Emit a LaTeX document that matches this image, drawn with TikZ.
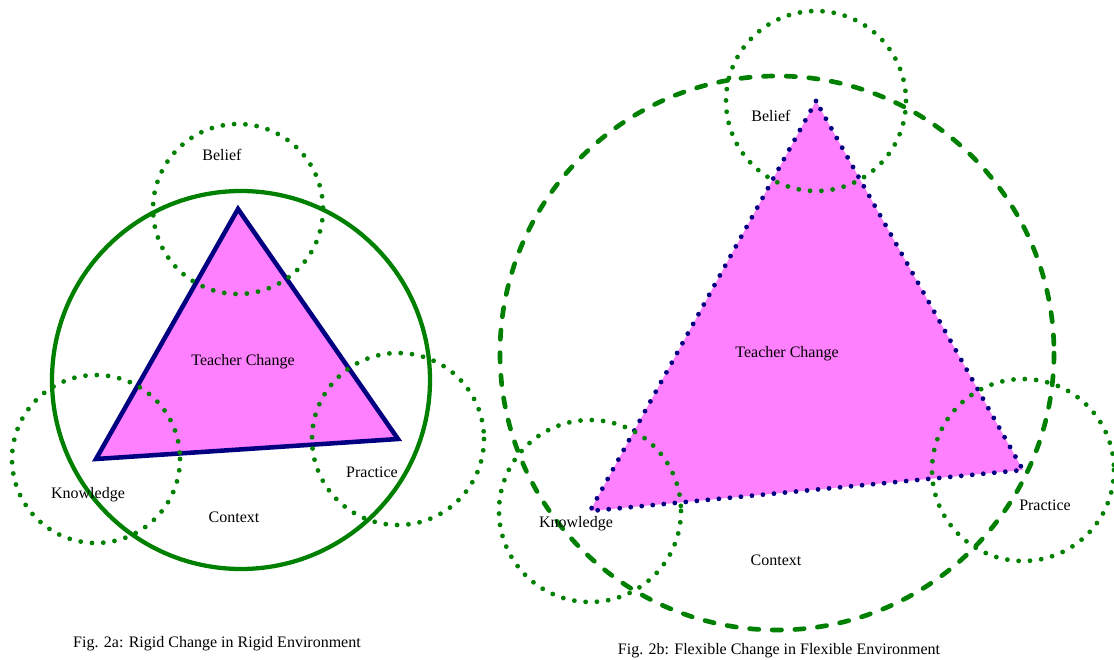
\documentclass[tikz,border=0pt]{standalone}
\usepackage{fontspec}
\setmainfont{Liberation Serif}
\usepackage{tikz}
\definecolor{navyline}{RGB}{0,0,128}
\definecolor{leafgreen}{RGB}{0,128,0}
\definecolor{pinkfill}{RGB}{255,128,255}

\begin{document}
\begin{tikzpicture}[x=0.75pt,y=-0.75pt,
every node/.style={font=\fontsize{12}{14}\selectfont},
dotring/.style={draw=leafgreen,line width=3.6pt,line cap=round,dash pattern=on 0pt off 8.5pt},
solidring/.style={draw=leafgreen,line width=3.2pt},
dashring/.style={draw=leafgreen,line width=3.5pt,line cap=round,dash pattern=on 7pt off 10pt},
rigid/.style={draw=navyline,line width=3.4pt,fill=pinkfill},
flexible/.style={draw=navyline,line width=3.6pt,line cap=round,dash pattern=on 0pt off 8.3pt,fill=pinkfill}]
\useasboundingbox (0,0) rectangle (1114,660);
% Fig. 2a
\coordinate (beliefA) at (238,209);
\coordinate (knowA) at (96,459);
\coordinate (pracA) at (398,439);
\draw[rigid] (beliefA) -- (knowA) -- (pracA) -- cycle;
\draw[dotring] (beliefA) circle[radius=85];
\draw[dotring] (knowA) circle[radius=84];
\draw[dotring] (pracA) circle[radius=86];
\draw[solidring] (241,380) circle[radius=189];
\node (beliefAtxt) at (222,155){Belief};
\node (changeAtxt) at (243,362){Teacher Change};
\node (knowAtxt) at (88,495){Knowledge};
\node (contextAtxt) at (234,517){Context};
\node (pracAtxt) at (372,472){Practice};
\node (capA) at (217,644){Fig. 2a: Rigid Change in Rigid Environment};
% Fig. 2b
\coordinate (beliefB) at (816,101);
\coordinate (knowB) at (590,511);
\coordinate (pracB) at (1023,470);
\draw[flexible] (beliefB) -- (knowB) -- (pracB) -- cycle;
\draw[dotring] (beliefB) circle[radius=90];
\draw[dotring] (knowB) circle[radius=91];
\draw[dotring] (pracB) circle[radius=91];
\draw[dashring] (777,353) circle[radius=277];
\node (beliefBtxt) at (771,116){Belief};
\node (changeBtxt) at (787,354){Teacher Change};
\node (knowBtxt) at (576,524){Knowledge};
\node (contextBtxt) at (776,560){Context};
\node (pracBtxt) at (1045,505){Practice};
\node (capB) at (779,651){Fig. 2b: Flexible Change in Flexible Environment};
\end{tikzpicture}
\end{document}
